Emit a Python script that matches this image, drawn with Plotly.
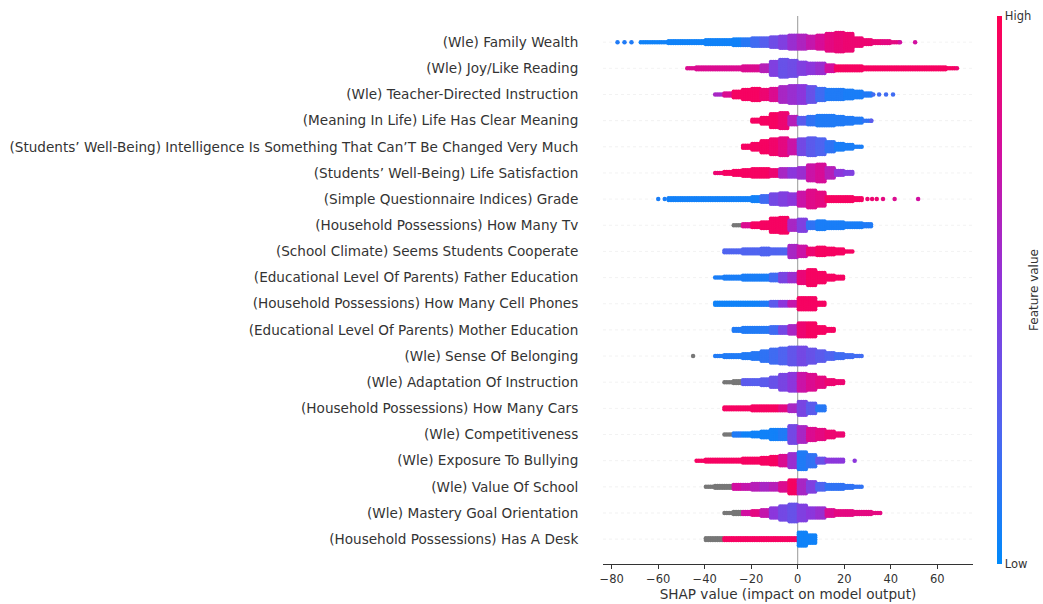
import plotly.graph_objects as go

# ---------------------------------------------------------------------------
# Beeswarm summary of SHAP values.  Each feature is stored as a histogram of
# SHAP values (4-unit bins starting at `*_start`), the number of stacked
# samples per bin, and the mean normalised feature value of those samples
# (0 = low, 1 = high, None = missing value).  Isolated samples are listed
# separately as outliers.
# ---------------------------------------------------------------------------
BIN_WIDTH = 4

FEATURE_LABELS = [
    "(Wle) Family Wealth",
    "(Wle) Joy/Like Reading",
    "(Wle) Teacher-Directed Instruction",
    "(Meaning In Life) Life Has Clear Meaning",
    "(Students’ Well-Being) Intelligence Is Something That Can’T Be Changed Very Much",
    "(Students’ Well-Being) Life Satisfaction",
    "(Simple Questionnaire Indices) Grade",
    "(Household Possessions) How Many Tv",
    "(School Climate) Seems Students Cooperate",
    "(Educational Level Of Parents) Father Education",
    "(Household Possessions) How Many Cell Phones",
    "(Educational Level Of Parents) Mother Education",
    "(Wle) Sense Of Belonging",
    "(Wle) Adaptation Of Instruction",
    "(Household Possessions) How Many Cars",
    "(Wle) Competitiveness",
    "(Wle) Exposure To Bullying",
    "(Wle) Value Of School",
    "(Wle) Mastery Goal Orientation",
    "(Household Possessions) Has A Desk",
]

wealth_start = -66
wealth_count = [1, 1, 1, 2, 2, 2, 2, 3, 3, 3, 4, 4, 5, 5, 6, 7, 8, 8, 7, 8, 10, 11, 10, 5, 3, 2, 2, 1]
wealth_value = [0.05] * 11 + [0.12, 0.2, 0.28, 0.38, 0.45, 0.55, 0.62, 0.7, 0.78, 0.85, 0.88, 0.9,
                              0.9, 0.9, 0.88, 0.85, 0.85]
wealth_out_x = [-77.5, -74.5, -71.5, 44.0, 50.5]
wealth_out_v = [0.1, 0.1, 0.1, 0.75, 0.75]

joy_start = -46
joy_count = [1, 2, 2, 2, 2, 2, 3, 3, 4, 8, 10, 9, 7, 6, 6, 4, 3, 3, 3, 2, 2, 2, 2, 2, 2, 2, 2, 2, 1]
joy_value = [0.8] * 8 + [0.65, 0.45, 0.35, 0.38, 0.45, 0.5, 0.55, 0.75] + [0.95] * 13
joy_out_x = [68.5]
joy_out_v = [0.9]

teacher_start = -34
teacher_count = [1, 2, 4, 6, 7, 6, 7, 9, 10, 10, 9, 7, 6, 6, 5, 4, 2]
teacher_value = [0.6, 0.8, 0.95, 0.95, 0.95, 0.9, 0.8, 0.6, 0.55, 0.5, 0.35, 0.2, 0.1, 0.1,
                 0.08, 0.08, 0.1]
teacher_out_x = [32.5, 35.0, 38.0, 41.0]
teacher_out_v = [0.2, 0.2, 0.2, 0.2]

meaning_start = -18
meaning_count = [2, 4, 8, 9, 5, 4, 5, 6, 6, 5, 4, 3, 1]
meaning_value = [0.95, 0.95, 0.95, 0.9, 0.65, 0.3, 0.15, 0.1, 0.1, 0.1, 0.1, 0.1, 0.15]
meaning_out_x = [31.7]
meaning_out_v = [0.3]

intel_start = -22
intel_count = [2, 4, 7, 9, 10, 8, 9, 10, 9, 6, 4, 3, 1]
intel_value = [0.95, 0.95, 0.95, 0.92, 0.85, 0.72, 0.4, 0.3, 0.25, 0.15, 0.08, 0.08, 0.08]
intel_out_x = []
intel_out_v = []

lifesat_start = -34
lifesat_count = [1, 2, 3, 4, 5, 5, 4, 5, 5, 6, 9, 10, 6, 3, 2]
lifesat_value = [0.9, 0.95, 0.95, 0.95, 0.95, 0.95, 0.9, 0.6, 0.5, 0.55, 0.72, 0.78, 0.65, 0.5, 0.45]
lifesat_out_x = []
lifesat_out_v = []

grade_start = -54
grade_count = [2, 2, 2, 2, 2, 2, 2, 2, 2, 3, 4, 6, 7, 6, 8, 10, 8, 3, 3, 3, 2]
grade_value = [0.06] * 10 + [0.2, 0.4, 0.45, 0.5, 0.72, 0.82, 0.85, 0.95, 0.95, 0.95, 0.95]
grade_out_x = [-60.0, -57.2, 30.0, 32.0, 34.0, 36.7, 41.7, 51.8]
grade_out_v = [0.08, 0.08, 0.9, 0.9, 0.9, 0.85, 0.8, 0.75]

tv_start = -26
tv_count = [1, 2, 3, 4, 8, 9, 6, 7, 4, 5, 4, 4, 3, 3, 2]
tv_value = [None, 0.8, 0.95, 0.95, 0.95, 0.95, 0.6, 0.45, 0.15, 0.08, 0.08, 0.08, 0.08, 0.08, 0.1]
tv_out_x = []
tv_out_v = []

coop_start = -30
coop_count = [2, 2, 3, 3, 4, 3, 3, 7, 6, 4, 5, 4, 3, 1]
coop_value = [0.25] * 7 + [0.6, 0.72, 0.9, 0.95, 0.95, 0.95, 0.95]
coop_out_x = []
coop_out_v = []

father_start = -34
father_count = [1, 2, 2, 3, 3, 3, 4, 5, 5, 7, 9, 6, 3, 2]
father_value = [0.08] * 6 + [0.2, 0.42, 0.55, 0.88, 0.95, 0.95, 0.95, 0.95]
father_out_x = []
father_out_v = []

phones_start = -34
phones_count = [2, 2, 2, 2, 2, 2, 3, 3, 3, 7, 7, 2]
phones_value = [0.05] * 5 + [0.1, 0.3, 0.5, 0.7, 0.95, 0.95, 0.95]
phones_out_x = []
phones_out_v = []

mother_start = -26
mother_count = [2, 3, 3, 3, 4, 4, 5, 8, 8, 4, 2]
mother_value = [0.1, 0.1, 0.1, 0.12, 0.2, 0.4, 0.6, 0.9, 0.95, 0.95, 0.95]
mother_out_x = []
mother_out_v = []

belong_start = -34
belong_count = [1, 2, 2, 3, 4, 6, 8, 9, 10, 10, 8, 6, 4, 3, 2, 1]
belong_value = [0.1, 0.1, 0.1, 0.1, 0.12, 0.15, 0.2, 0.25, 0.33, 0.4, 0.35, 0.3, 0.25, 0.2, 0.2, 0.2]
belong_out_x = [-45.0]
belong_out_v = [None]

adapt_start = -30
adapt_count = [1, 2, 3, 3, 4, 6, 9, 10, 10, 9, 6, 3, 2]
adapt_value = [None, None, 0.3, 0.28, 0.3, 0.35, 0.42, 0.5, 0.72, 0.8, 0.85, 0.9, 0.9]
adapt_out_x = []
adapt_out_v = []

cars_start = -30
cars_count = [2, 2, 2, 3, 3, 3, 3, 4, 8, 6, 3]
cars_value = [0.95] * 6 + [0.85, 0.6, 0.42, 0.3, 0.12]
cars_out_x = []
cars_out_v = []

compet_start = -30
compet_count = [1, 2, 2, 3, 4, 6, 6, 10, 9, 7, 6, 4, 2]
compet_value = [None, 0.1, 0.05, 0.05, 0.05, 0.06, 0.1, 0.4, 0.6, 0.8, 0.85, 0.9, 0.9]
compet_out_x = []
compet_out_v = []

bully_start = -42
bully_count = [1, 2, 2, 2, 2, 3, 3, 4, 5, 6, 8, 10, 7, 3, 2, 2]
bully_value = [0.95] * 9 + [0.8, 0.55, 0.1, 0.15, 0.35, 0.5, 0.5]
bully_out_x = [24.5]
bully_out_v = [0.5]

school_start = -38
school_count = [1, 2, 2, 3, 3, 4, 4, 4, 5, 8, 8, 6, 4, 3, 3, 2, 1]
school_value = [None, None, None, 0.75, 0.7, 0.65, 0.6, 0.65, 0.8, 0.95, 0.6, 0.45, 0.25,
                0.15, 0.15, 0.15, 0.15]
school_out_x = []
school_out_v = []

mastery_start = -30
mastery_count = [1, 2, 2, 3, 4, 6, 8, 10, 9, 6, 6, 4, 3, 3, 2, 2, 1]
mastery_value = [None, None, 0.75, 0.85, 0.7, 0.5, 0.4, 0.35, 0.45, 0.5, 0.55, 0.8, 0.85,
                 0.85, 0.85, 0.85, 0.85]
mastery_out_x = []
mastery_out_v = []

desk_start = -38
desk_count = [2, 2, 2, 2, 2, 2, 2, 2, 2, 2, 8, 5]
desk_value = [None, None] + [0.95] * 8 + [0.05, 0.05]
desk_out_x = []
desk_out_v = []

FEATURES = [
    (wealth_start, wealth_count, wealth_value, wealth_out_x, wealth_out_v),
    (joy_start, joy_count, joy_value, joy_out_x, joy_out_v),
    (teacher_start, teacher_count, teacher_value, teacher_out_x, teacher_out_v),
    (meaning_start, meaning_count, meaning_value, meaning_out_x, meaning_out_v),
    (intel_start, intel_count, intel_value, intel_out_x, intel_out_v),
    (lifesat_start, lifesat_count, lifesat_value, lifesat_out_x, lifesat_out_v),
    (grade_start, grade_count, grade_value, grade_out_x, grade_out_v),
    (tv_start, tv_count, tv_value, tv_out_x, tv_out_v),
    (coop_start, coop_count, coop_value, coop_out_x, coop_out_v),
    (father_start, father_count, father_value, father_out_x, father_out_v),
    (phones_start, phones_count, phones_value, phones_out_x, phones_out_v),
    (mother_start, mother_count, mother_value, mother_out_x, mother_out_v),
    (belong_start, belong_count, belong_value, belong_out_x, belong_out_v),
    (adapt_start, adapt_count, adapt_value, adapt_out_x, adapt_out_v),
    (cars_start, cars_count, cars_value, cars_out_x, cars_out_v),
    (compet_start, compet_count, compet_value, compet_out_x, compet_out_v),
    (bully_start, bully_count, bully_value, bully_out_x, bully_out_v),
    (school_start, school_count, school_value, school_out_x, school_out_v),
    (mastery_start, mastery_count, mastery_value, mastery_out_x, mastery_out_v),
    (desk_start, desk_count, desk_value, desk_out_x, desk_out_v),
]

X_TICKS = [-80, -60, -40, -20, 0, 20, 40, 60]

# SHAP-style blue -> purple -> red colour map
RED_BLUE = [
    [0.0, "rgb(0,138,250)"],
    [0.25, "rgb(80,100,240)"],
    [0.5, "rgb(140,55,220)"],
    [0.75, "rgb(210,15,160)"],
    [1.0, "rgb(255,0,82)"],
]
MISSING_COLOR = "#777777"
TEXT = "#333333"
FONT = "DejaVu Sans"

# --- expand the histograms into stacked dots --------------------------------
DY = 0.07                          # vertical spacing of stacked dots (rows)
COLUMN_OFFSETS = [-1.5, -0.5, 0.5, 1.5]

n_rows = len(FEATURES)
cx, cy, cv = [], [], []
gx, gy = [], []


def add_point(x, y, v):
    if v is None:
        gx.append(x)
        gy.append(y)
    else:
        cx.append(x)
        cy.append(y)
        cv.append(v)


for k, (start, counts, values, out_x, out_v) in enumerate(FEATURES):
    row = n_rows - 1 - k
    for i, (n, v) in enumerate(zip(counts, values)):
        centre = start + BIN_WIDTH * i
        for off in COLUMN_OFFSETS:
            for j in range(n):
                add_point(centre + off, row + (j - (n - 1) / 2) * DY, v)
    for x, v in zip(out_x, out_v):
        add_point(x, row, v)

# plot-area geometry in pixels
L, R, T, B = 603, 70, 16, 40
W, H = 1043, 604
PW = W - L - R

fig = go.Figure()

fig.add_trace(go.Scatter(
    x=gx, y=gy, mode="markers",
    marker=dict(size=4.5, color=MISSING_COLOR, line=dict(width=0)),
    hoverinfo="skip", showlegend=False,
))

fig.add_trace(go.Scatter(
    x=cx, y=cy, mode="markers",
    marker=dict(
        size=4.5, color=cv, colorscale=RED_BLUE, cmin=0, cmax=1,
        line=dict(width=0),
        showscale=True,
        colorbar=dict(
            thickness=5, thicknessmode="pixels",
            len=1.0, lenmode="fraction",
            xref="paper", x=(997 - L) / PW, xanchor="left", xpad=0,
            yref="paper", y=0.5, yanchor="middle", ypad=0,
            outlinewidth=0,
            tickvals=[0, 1], ticktext=["Low", "High"], ticks="",
            tickfont=dict(family=FONT, size=11.5, color=TEXT),
        ),
    ),
    hoverinfo="skip", showlegend=False,
))

# faint dotted guide per feature row and the zero line
for r in range(n_rows):
    fig.add_shape(type="line", xref="paper", x0=0, x1=1, y0=r, y1=r,
                  line=dict(color="#e4e4e4", width=0.5, dash="dot"), layer="below")
fig.add_shape(type="line", x0=0, x1=0, yref="paper", y0=0, y1=1,
              line=dict(color="#999999", width=1), layer="below")

fig.add_annotation(
    text="Feature value", textangle=-90, showarrow=False,
    xref="paper", yref="paper", x=(1034 - L) / PW, y=0.5,
    xanchor="center", yanchor="middle",
    font=dict(family=FONT, size=12, color=TEXT),
)

fig.update_layout(
    width=W, height=H,
    margin=dict(l=L, r=R, t=T, b=B),
    paper_bgcolor="white", plot_bgcolor="white",
    font=dict(family=FONT, color=TEXT),
    xaxis=dict(
        range=[-83.75, 75.4], tickvals=X_TICKS, ticktext=[str(t).replace("-", "−") for t in X_TICKS],
        showgrid=False, zeroline=False,
        showline=True, linecolor="#333333", linewidth=1,
        ticks="outside", ticklen=4, tickcolor="#333333",
        tickfont=dict(family=FONT, size=11.5, color=TEXT),
        title=dict(text="SHAP value (impact on model output)", standoff=3,
                   font=dict(family=FONT, size=13.6, color=TEXT)),
        automargin=False,
    ),
    yaxis=dict(
        range=[-0.95, 20], tickvals=list(range(n_rows)),
        ticktext=FEATURE_LABELS[::-1],
        showgrid=False, zeroline=False, showline=False,
        ticks="outside", ticklen=21, tickcolor="rgba(0,0,0,0)",
        tickfont=dict(family=FONT, size=13.6, color=TEXT),
        automargin=False,
    ),
)

fig.write_html("out.html")
